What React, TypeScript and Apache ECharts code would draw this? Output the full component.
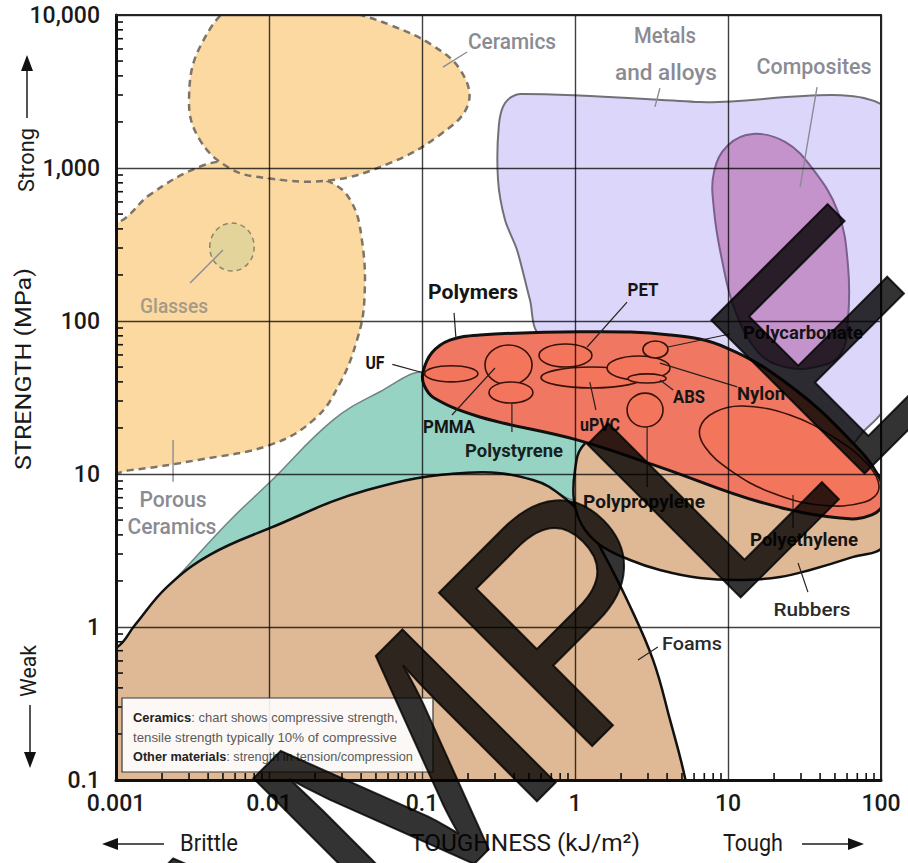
import React, { useEffect, useRef } from "react";
import * as echarts from "echarts";

// ---------- axis ticks ----------
const xTickLabels = ["0.001", "0.01", "0.1", "1", "10", "100"];
const yTickLabels = ["0.1", "1", "10", "100", "1,000", "10,000"];
const xMin = 0.001, xMax = 100, yMin = 0.1, yMax = 10000;

// ---------- material families: outlines as [toughness kJ/m2, strength MPa] ----------
const ceramicsOutline = [
  [0.0065, 12000], [0.0036, 6400], [0.003, 2800], [0.0035, 1550], [0.0055, 1000], [0.0095, 860],
  [0.025, 830], [0.062, 1080], [0.13, 1640], [0.2, 2600], [0.18, 4300], [0.115, 6400],
  [0.062, 8600], [0.034, 10500], [0.022, 12000],
];
const glassesOutline = [
  [0.0007, 340], [0.00115, 470], [0.00167, 670], [0.0035, 1016], [0.0058, 1090], [0.0087, 887],
  [0.016, 835], [0.024, 823], [0.034, 618], [0.0405, 338], [0.042, 137], [0.0376, 75],
  [0.029, 39], [0.02, 23], [0.0102, 15.5], [0.0035, 12.4], [0.00124, 10.6], [0.0007, 10.3],
];
const glassSpot = [0.0041, 0.008, 212, 437]; // xMin, xMax, yMin, yMax
const metalsOutline = [
  [0.437, 3050], [0.349, 2660], [0.318, 1910], [0.314, 835], [0.349, 457], [0.418, 291],
  [0.508, 137], [0.591, 81], [6.56, 30.5], [50, 13], [78.5, 19.4], [105, 27], [115, 60],
  [115, 2320], [6.56, 2700],
];
const compositesOutline = [
  [14.6, 1670], [23.6, 1480], [35.4, 1000], [52.4, 515], [60.8, 232], [60.8, 101.5], [54, 60],
  [37.1, 50], [23.6, 50], [15.7, 62.7], [11.1, 118], [9.14, 250], [8.1, 531], [8.1, 943], [10, 1410],
];
const brittlePolymerOutline = [
  [0.0021, 1.7], [0.0032, 2.75], [0.0057, 5.1], [0.0102, 8.9], [0.0262, 22.5], [0.0531, 34.5],
  [0.1016, 46.4], [0.113, 32.8], [0.324, 22.5], [1.25, 15.5], [1.22, 6.76], [0.887, 6.97],
  [0.591, 8.87], [0.197, 10.2], [0.0438, 7.86], [0.0102, 4.44], [0.0035, 2.54],
];
const foamsOutline = [
  [0.0007, 0.66], [0.00102, 0.74], [0.00133, 1.03], [0.00215, 1.82], [0.0041, 2.96], [0.0102, 4.44],
  [0.0438, 7.86], [0.197, 10.2], [0.531, 9.14], [0.887, 6.76], [1.16, 5.0], [1.46, 3.33],
  [2.19, 1.5], [3.24, 0.608], [4.18, 0.247], [5.24, 0.103], [5.9, 0.05], [0.0007, 0.05],
];
const elastomerOutline = [
  [1.46, 17.5], [1.11, 15], [1.0, 10.6], [0.984, 6.76], [1.11, 4.64], [1.46, 3.44], [2.29, 2.74],
  [3.59, 2.36], [6.56, 2.09], [12.5, 2.03], [21.9, 2.12], [34.4, 2.36], [62.7, 2.83], [106, 3.44],
  [117, 6.76], [84.8, 10.6], [16.2, 13.7], [3.09, 15.5],
];
const polymersOutline = [
  [0.1016, 46.4], [0.116, 62], [0.152, 75], [0.239, 81], [1.08, 85], [4.18, 81], [9.85, 66.6],
  [26.6, 36.5], [62.7, 16.7], [95.5, 9.85], [105, 6.76], [87, 5.4], [54, 5.15], [16.2, 6.56],
  [3.59, 11.1], [1.03, 16.7], [0.239, 23.6], [0.12, 31.4], [0.103, 38.2],
];
const nylonOutline = [
  [6.56, 20], [8.23, 25.4], [12.5, 27.8], [25.4, 24.3], [50, 17.2], [82.2, 11.5], [97, 8.1],
  [78.5, 6.56], [39.9, 6.27], [18.8, 7.62], [10.3, 10.6], [7.08, 15],
];
// polymer grades: name, xMin, xMax, yMin, yMax
const polymerGrades: [string, number, number, number, number][] = [
  ["UF", 0.104, 0.232, 40, 51],
  ["PMMA", 0.258, 0.524, 38.2, 69.7],
  ["Polystyrene", 0.274, 0.531, 29.1, 39.9],
  ["PET", 0.582, 1.29, 50, 70.8],
  ["uPVC", 0.6, 2.78, 36.5, 50],
  ["ABS", 1.62, 4.18, 41.1, 59],
  ["ABS (inner)", 2.22, 3.94, 39.3, 45.1],
  ["Polycarbonate", 2.78, 4.05, 57.3, 74],
  ["Polypropylene", 2.19, 3.76, 20.3, 33.8],
];
// leader lines: from, to
const greyLeaders = [
  [[0.197, 5730], [0.137, 4570]],
  [[3.59, 3330], [3.33, 2510]],
  [[38.2, 3380], [29.6, 752]],
  [[0.00305, 177], [0.005, 291]],
  [[0.00236, 16.7], [0.00236, 8.9]],
];
const darkLeaders = [
  [[0.064, 52], [0.103, 45.7]],
  [[0.162, 113], [0.167, 75]],
  [[2.19, 133], [1.2, 67.6]],
  [[0.157, 24.3], [0.3, 49.3]],
  [[0.387, 29.1], [0.387, 18.8]],
  [[1.25, 39.9], [1.37, 26.2]],
  [[3.59, 41.1], [4.38, 35.4]],
  [[3.59, 53.1], [11.5, 37.1]],
  [[4.05, 67.6], [10.3, 82.2]],
  [[2.96, 20.3], [2.96, 8.22]],
  [[26.6, 7.29], [26.6, 4.44]],
  [[28.7, 2.62], [33.3, 1.69]],
  [[2.58, 0.608], [3.48, 0.74]],
];

// ---------- text layout (pixel positions) ----------
type Lbl = [string, number, number, number, number, number, string];
// text, cx, cy, width, fontSize, weight, colour
const GREY = "#8a8b93";
const labelLayout: Lbl[] = [
  ["Ceramics", 512, 41, 88, 22, 500, GREY],
  ["Metals", 665, 35, 62, 22, 500, GREY],
  ["and alloys", 666, 72, 102, 22, 500, GREY],
  ["Composites", 814, 66, 115, 22, 500, GREY],
  ["Glasses", 174, 306, 68, 21, 500, "#a39b88"],
  ["Porous", 173, 499, 67, 22, 500, GREY],
  ["Ceramics", 172, 526, 89, 22, 500, GREY],
  ["Polymers", 473, 292, 90, 21, 700, "#151515"],
  ["UF", 375, 363, 19, 18, 700, "#151515"],
  ["PET", 643, 290, 31, 18, 700, "#151515"],
  ["PMMA", 449, 427, 52, 18, 700, "#151515"],
  ["Polystyrene", 514, 451, 98, 19, 700, "#15231e"],
  ["uPVC", 600, 425, 40, 18, 700, "#151515"],
  ["ABS", 689, 397, 32, 18, 700, "#151515"],
  ["Nylon", 761, 394, 48, 18, 700, "#151515"],
  ["Polycarbonate", 803, 333, 120, 19, 700, "#151515"],
  ["Polypropylene", 644, 502, 122, 19, 700, "#151515"],
  ["Polyethylene", 804, 540, 108, 19, 700, "#151515"],
  ["Rubbers", 812, 610, 77, 19, 500, "#2a2a2a"],
  ["Foams", 692, 644, 60, 19, 500, "#2a2a2a"],
  ["TOUGHNESS (kJ/m²)", 525, 843, 230, 24, 400, "#1a1a1a"],
  ["Brittle", 209, 843, 58, 24, 400, "#1a1a1a"],
  ["Tough", 753, 843, 60, 24, 400, "#1a1a1a"],
];
const rotatedLayout: Lbl[] = [
  ["STRENGTH (MPa)", 24, 369, 202, 22, 400, "#1a1a1a"],
  ["Strong", 26, 160, 64, 22, 400, "#1a1a1a"],
  ["Weak", 28, 671, 52, 22, 400, "#1a1a1a"],
];
const noteLines: [string, string, number][] = [
  ["Ceramics", ": chart shows compressive strength,", 265],
  ["", "tensile strength typically 10% of compressive", 264],
  ["Other materials", ": strength in tension/compression", 280],
];

let measureCtx: CanvasRenderingContext2D | null = null;
function measure(text: string, font: string) {
  if (!measureCtx) measureCtx = document.createElement("canvas").getContext("2d");
  if (!measureCtx) return text.length * 8;
  measureCtx.font = font;
  return measureCtx.measureText(text).width;
}

function regionSeries(pts: number[][], style: any, smooth = 0.4) {
  return {
    type: "custom",
    coordinateSystem: "cartesian2d",
    clip: true,
    silent: true,
    data: [pts[0]],
    renderItem: (_p: any, api: any) => ({
      type: "polygon",
      shape: { points: pts.map((p) => api.coord(p)), smooth },
      style,
    }),
  };
}

function ellipseSeries(items: number[][], style: any) {
  return {
    type: "custom",
    coordinateSystem: "cartesian2d",
    clip: true,
    silent: true,
    data: items.map((e) => [e[0], e[2]]),
    renderItem: (params: any, api: any) => {
      const e = items[params.dataIndex];
      const a = api.coord([e[0], e[3]]);
      const b = api.coord([e[1], e[2]]);
      return {
        type: "ellipse",
        shape: { cx: (a[0] + b[0]) / 2, cy: (a[1] + b[1]) / 2, rx: (b[0] - a[0]) / 2, ry: (b[1] - a[1]) / 2 },
        style,
      };
    },
  };
}

function leaderSeries(lines: number[][][], color: string, width: number) {
  return {
    type: "custom",
    coordinateSystem: "cartesian2d",
    clip: true,
    silent: true,
    z: 6,
    data: lines.map((l) => l[0]),
    renderItem: (params: any, api: any) => {
      const l = lines[params.dataIndex];
      const a = api.coord(l[0]);
      const b = api.coord(l[1]);
      return { type: "line", shape: { x1: a[0], y1: a[1], x2: b[0], y2: b[1] }, style: { stroke: color, lineWidth: width } };
    },
  };
}

function tickSeries() {
  return {
    type: "custom",
    coordinateSystem: "cartesian2d",
    clip: false,
    silent: true,
    z: 12,
    data: [[xMin, yMin]],
    renderItem: (_p: any, api: any) => {
      const children: any[] = [];
      const base = api.coord([xMin, yMin]);
      for (let e = Math.log10(xMin); e < Math.log10(xMax) - 0.5; e++) {
        for (let k = 2; k <= 9; k++) {
          const p = api.coord([k * Math.pow(10, e), yMin]);
          children.push({ type: "line", shape: { x1: p[0], y1: base[1], x2: p[0], y2: base[1] - 7 }, style: { stroke: "#111", lineWidth: 1.6 } });
        }
      }
      for (let e = Math.log10(yMin); e < Math.log10(yMax) - 0.5; e++) {
        for (let k = 2; k <= 9; k++) {
          const p = api.coord([xMin, k * Math.pow(10, e)]);
          children.push({ type: "line", shape: { x1: base[0], y1: p[1], x2: base[0] + 7, y2: p[1] }, style: { stroke: "#111", lineWidth: 1.6 } });
        }
      }
      return { type: "group", children };
    },
  };
}

function textEl(l: Lbl, rotation = 0) {
  const [text, x, y, w, size, weight, color] = l;
  const font = `${weight} ${size}px Roboto`;
  const sx = w / measure(text, font);
  return {
    type: "text",
    x,
    y,
    rotation,
    scaleX: sx,
    z: 60,
    silent: true,
    style: {
      text,
      fontFamily: "Roboto",
      fontSize: size,
      fontWeight: weight,
      fill: color,
      align: "center",
      verticalAlign: "middle",
      textAlign: "center",
      textVerticalAlign: "middle",
    },
  };
}

function arrow(x1: number, y1: number, x2: number, y2: number) {
  const dx = x2 - x1, dy = y2 - y1;
  const len = Math.hypot(dx, dy);
  const ux = dx / len, uy = dy / len;
  const hb = [x2 - ux * 16, y2 - uy * 16];
  return [
    { type: "line", z: 60, silent: true, shape: { x1, y1, x2: hb[0], y2: hb[1] }, style: { stroke: "#555", lineWidth: 2 } },
    {
      type: "polygon",
      z: 60,
      silent: true,
      shape: { points: [[x2, y2], [hb[0] - uy * 6, hb[1] + ux * 6], [hb[0] + uy * 6, hb[1] - ux * 6]] },
      style: { fill: "#111" },
    },
  ];
}

function noteEls() {
  const els: any[] = [
    {
      type: "rect",
      z: 55,
      silent: true,
      shape: { x: 122, y: 698, width: 311, height: 74 },
      style: { fill: "rgba(255,255,255,0.9)", stroke: "#3a3a3a", lineWidth: 1.2 },
    },
  ];
  const ys = [718, 738, 757];
  noteLines.forEach((ln, i) => {
    const fb = "bold 12px 'Liberation Sans'";
    const fn = "12px 'Liberation Sans'";
    const natural = measure(ln[0], fb) + measure(ln[1], fn);
    const sx = ln[2] / natural;
    els.push({
      type: "text",
      x: 133,
      y: ys[i],
      scaleX: sx,
      z: 58,
      silent: true,
      style: {
        text: (ln[0] ? `{b|${ln[0]}}` : "") + `{n|${ln[1]}}`,
        align: "left",
        verticalAlign: "middle",
        textAlign: "left",
        textVerticalAlign: "middle",
        rich: {
          b: { fontFamily: "Liberation Sans", fontSize: 12, fontWeight: "bold", fill: "#222", color: "#222" },
          n: { fontFamily: "Liberation Sans", fontSize: 12, fill: "#5a5a5a", color: "#5a5a5a" },
        },
      },
    });
  });
  return els;
}

export default function App() {
  const ref = useRef<HTMLDivElement>(null);
  useEffect(() => {
    if (!ref.current) return;
    const chart = echarts.init(ref.current, undefined, { renderer: "svg" });
    const xFmt = (v: number) => xTickLabels[Math.round(Math.log10(v)) - Math.round(Math.log10(xMin))] ?? "";
    const yFmt = (v: number) => yTickLabels[Math.round(Math.log10(v)) - Math.round(Math.log10(yMin))] ?? "";
    const axisLabelStyle = { fontFamily: "Roboto", fontSize: 23, fontWeight: 500, color: "#1a1a1a" };
    const split = { show: true, lineStyle: { color: "rgba(0,0,0,0.75)", width: 1.4 } };

    const redOutline = { fill: "#f3765c", stroke: "#3a120a", lineWidth: 1.6 };

    const option: any = {
      animation: false,
      backgroundColor: "#ffffff",
      grid: { left: 116, top: 15, right: 27, bottom: 83, show: false },
      xAxis: [
        {
          type: "log", logBase: 10, min: xMin, max: xMax, z: 10,
          axisLine: { show: true, onZero: false, lineStyle: { color: "#111", width: 3 } },
          axisTick: { show: false },
          axisLabel: { ...axisLabelStyle, margin: 12, formatter: xFmt },
          splitLine: split,
        },
        {
          type: "log", logBase: 10, min: xMin, max: xMax, position: "top", z: 10,
          axisLine: { show: true, onZero: false, lineStyle: { color: "#222", width: 2 } },
          axisTick: { show: false }, axisLabel: { show: false }, splitLine: { show: false },
        },
      ],
      yAxis: [
        {
          type: "log", logBase: 10, min: yMin, max: yMax, z: 10,
          axisLine: { show: true, onZero: false, lineStyle: { color: "#111", width: 3 } },
          axisTick: { show: false },
          axisLabel: { ...axisLabelStyle, margin: 16, formatter: yFmt },
          splitLine: split,
        },
        {
          type: "log", logBase: 10, min: yMin, max: yMax, position: "right", z: 10,
          axisLine: { show: true, onZero: false, lineStyle: { color: "#222", width: 2 } },
          axisTick: { show: false }, axisLabel: { show: false }, splitLine: { show: false },
        },
      ],
      series: [
        regionSeries(brittlePolymerOutline, { fill: "#97d3c3", stroke: "#6e8580", lineWidth: 1.5 }),
        regionSeries(foamsOutline, { fill: "#dfb995", stroke: "#111", lineWidth: 2.5 }),
        regionSeries(glassesOutline, { fill: "#fcd9a0", stroke: "#7c7469", lineWidth: 2.5, lineDash: [7, 5] }),
        regionSeries(ceramicsOutline, { fill: "#fcd9a0", stroke: "#7c7469", lineWidth: 2.5, lineDash: [7, 5] }),
        ellipseSeries([glassSpot], { fill: "#e3d49c", stroke: "#8e8468", lineWidth: 1.5, lineDash: [5, 4] }),
        regionSeries(metalsOutline, { fill: "#dcd7fa", stroke: "#707078", lineWidth: 2 }, 0.3),
        regionSeries(compositesOutline, { fill: "#c593cb", stroke: "#7b5f8f", lineWidth: 2 }),
        regionSeries(elastomerOutline, { fill: "#dfb995", stroke: "#111", lineWidth: 2.5 }),
        regionSeries(polymersOutline, { fill: "#f07862", stroke: "#111", lineWidth: 3 }),
        regionSeries(nylonOutline, redOutline),
        ellipseSeries(polymerGrades.map((g) => g.slice(1) as number[]), redOutline),
        leaderSeries(greyLeaders, "#8a8b93", 1.4),
        leaderSeries(darkLeaders, "#2a2020", 1.2),
        tickSeries(),
      ],
      graphic: [
        ...labelLayout.map((l) => textEl(l)),
        ...rotatedLayout.map((l) => textEl(l, Math.PI / 2)),
        ...arrow(27, 118, 27, 55),
        ...arrow(30, 705, 30, 768),
        ...arrow(164, 844, 102, 844),
        ...arrow(802, 844, 864, 844),
        ...noteEls(),
        {
          type: "text",
          x: 466,
          y: 718,
          rotation: Math.PI / 4,
          z: 100,
          silent: true,
          style: {
            text: "SAMPLE",
            fontFamily: "Liberation Sans",
            fontSize: 315,
            fill: "rgba(0,0,0,0.8)",
            stroke: "rgba(0,0,0,0.8)",
            lineWidth: 2,
            align: "center",
            verticalAlign: "middle",
            textAlign: "center",
            textVerticalAlign: "middle",
          },
        },
      ],
    };
    chart.setOption(option);
    return () => chart.dispose();
  }, []);
  return (
    <div
      ref={ref}
      style={{ position: "fixed", left: 0, top: 0, width: 908, height: 863, background: "#fff" }}
    />
  );
}
